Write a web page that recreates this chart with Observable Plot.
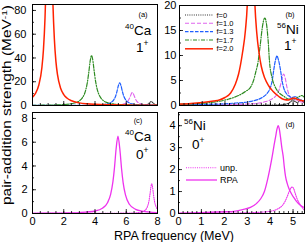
<!DOCTYPE html>
<html><head><meta charset="utf-8">
<script src="https://cdn.jsdelivr.net/npm/d3@7"></script>
<script src="https://cdn.jsdelivr.net/npm/@observablehq/plot@0.6"></script>
<style>
body{margin:0;background:#fff;}
#wrap{position:relative;width:305px;height:242px;font-family:"Liberation Sans",Arial,Helvetica,sans-serif;}
#wrap svg{position:absolute;left:0;top:0;}
</style></head><body><div id="wrap"></div>
<script>
// ---- data: [RPA frequency (MeV), strength] ----
// panel (a) 40Ca 1+
const caF0  = [[0,0.05],[2,0.05],[4,0.05],[5,0.06],[6,0.1],[6.6,0.15],[7.0,0.2],[7.2,0.42],[7.35,0.9],[7.45,1.7],[7.52,2.65],[7.6,3.4],[7.68,2.65],[7.75,1.7],[7.85,0.9],[8.0,0.42]];
const caF10 = [[0,0.03],[2,0.04],[3,0.05],[4,0.08],[5,0.22],[5.5,0.53],[5.8,1.13],[6.0,2.3],[6.1,3.5],[6.2,5.8],[6.3,9.1],[6.39,11],[6.48,9.1],[6.58,5.8],[6.68,3.5],[6.78,2.3],[7.0,1.07],[7.3,0.51],[7.7,0.25],[8,0.17]];
const caF13 = [[0,0.03],[2,0.07],[3,0.14],[4,0.36],[4.5,0.76],[4.8,1.4],[5.0,2.4],[5.2,4.8],[5.3,7.2],[5.4,11.4],[5.5,16.8],[5.58,19],[5.65,17.3],[5.75,11.9],[5.85,7.6],[6.0,4.1],[6.2,2.1],[6.5,1.03],[7,0.45],[8,0.16]];
const caF17 = [[0,0.18],[1,0.34],[2,0.81],[2.5,1.54],[2.8,2.57],[3.0,3.9],[3.2,6.6],[3.4,12.7],[3.5,18.6],[3.6,27.7],[3.7,38.1],[3.78,42],[3.85,38.9],[3.95,28.7],[4.05,19.4],[4.15,13.2],[4.3,7.9],[4.5,4.5],[4.8,2.4],[5.2,1.26],[6,0.53],[7,0.25],[8,0.15]];
const caF20 = [[0,7.0],[0.2,10.4],[0.4,17],[0.6,31.8],[0.7,46.9],[0.8,73.5],[0.85,93.9],[0.9,120],[1.0,185],[1.07,207],[1.15,179],[1.25,115],[1.3,89],[1.4,55.7],[1.5,36.9],[1.6,25.9],[1.8,14.5],[2.0,9.2],[2.2,6.3],[2.5,4.0],[3.0,2.2],[3.5,1.4],[4,0.96],[5,0.54],[6,0.34],[7,0.24],[8,0.17]];
// panel (b) 56Ni 1+
const niF0  = [[0,0.02],[2,0.03],[3,0.05],[4,0.08],[4.5,0.15],[4.7,0.3],[4.85,0.6],[4.95,1.0],[5.0,1.1],[5.08,0.8],[5.18,0.6],[5.28,0.9],[5.35,1.1],[5.43,0.8],[5.5,0.5]];
const niF10 = [[0,0.05],[1,0.08],[2,0.15],[3,0.3],[3.5,0.5],[3.8,0.8],[4.07,1.3],[4.25,2.0],[4.37,3.0],[4.45,4.2],[4.52,5.6],[4.58,6.3],[4.65,5.5],[4.73,3.6],[4.8,2.4],[4.88,1.6],[5.0,1.2],[5.15,1.1],[5.3,0.8],[5.5,0.6]];
const niF13 = [[0,0.1],[1,0.2],[2,0.35],[2.5,0.5],[3,0.7],[3.3,1.0],[3.64,1.6],[3.85,2.4],[4.0,3.6],[4.08,5.0],[4.15,7.2],[4.22,9.0],[4.29,9.9],[4.36,9.0],[4.44,7.2],[4.52,4.8],[4.58,3.6],[4.7,2.4],[4.85,1.8],[4.95,1.6],[5.1,1.8],[5.25,1.3],[5.4,1.0],[5.5,0.8]];
const niF17 = [[0,0.25],[0.5,0.3],[1,0.45],[1.46,0.65],[2.18,1.3],[2.6,2.0],[2.9,2.8],[3.13,3.7],[3.25,4.9],[3.35,6.6],[3.46,8.8],[3.55,12],[3.65,15.8],[3.72,17.3],[3.76,17.5],[3.82,16.5],[3.9,13],[3.96,8.8],[4.07,5.6],[4.2,3.8],[4.37,2.6],[4.6,1.8],[4.8,1.3],[5.0,1.3],[5.2,1.6],[5.38,2.0],[5.5,1.6]];
const niF20 = [[0,0.3],[0.5,0.4],[1,0.6],[1.5,0.9],[1.75,1.1],[2,1.6],[2.25,2.5],[2.45,4.2],[2.6,6.3],[2.77,10.5],[2.9,15],[2.98,20],[3.05,30],[3.15,45],[3.25,30],[3.32,20],[3.4,14.5],[3.5,10.5],[3.6,7.8],[3.75,5.5],[3.93,3.9],[4.1,2.9],[4.37,1.8],[4.6,1.2],[4.8,1.1],[4.95,1.4],[5.05,1.5],[5.2,1.2],[5.35,1.0],[5.5,0.9]];
// panel (c) 40Ca 0+
const ca0Rpa = [[0,0.016],[2,0.039],[3,0.078],[4,0.21],[4.5,0.47],[4.8,0.91],[5.0,1.61],[5.15,2.7],[5.25,3.9],[5.35,5.43],[5.47,6.5],[5.6,5.28],[5.7,3.77],[5.8,2.6],[5.95,1.56],[6.2,0.78],[6.6,0.35],[7,0.2],[8,0.073]];
const ca0Unp = [[0,0.02],[3,0.02],[6,0.03],[6.5,0.043],[7,0.134],[7.2,0.27],[7.35,0.56],[7.45,1.02],[7.52,1.63],[7.58,2.25],[7.63,2.5],[7.68,2.25],[7.74,1.63],[7.81,1.02],[7.91,0.56],[8.0,0.35]];
// panel (d) 56Ni 0+
const ni0Rpa = [[0,0.02],[1,0.04],[2,0.08],[2.42,0.1],[2.8,0.18],[3.14,0.28],[3.4,0.45],[3.58,0.66],[3.75,1.0],[3.9,1.6],[4.0,2.1],[4.09,2.6],[4.17,3.1],[4.24,3.5],[4.3,3.85],[4.35,4.0],[4.4,3.85],[4.45,3.5],[4.51,3.0],[4.57,2.6],[4.62,2.1],[4.67,1.7],[4.75,1.35],[4.82,1.14],[4.93,0.9],[5.03,0.73],[5.15,0.55],[5.33,0.36],[5.5,0.27]];
const ni0Unp = [[0,0.01],[3,0.03],[3.6,0.06],[4.0,0.1],[4.2,0.15],[4.4,0.25],[4.53,0.36],[4.65,0.55],[4.76,0.81],[4.85,1.05],[4.92,1.18],[4.96,1.21],[5.02,1.15],[5.1,0.9],[5.18,0.66],[5.3,0.42],[5.4,0.27],[5.5,0.15]];
// legend labels
const fLabels = ["f=0","f=1.0","f=1.3","f=1.7","f=2.0"];
const modeLabels = ["unp.","RPA"];
// ticks
const xTicksCa = [0,2,4,6,8];
const xTicksNi = [0,1,2,3,4,5];
const yTicksA = [0,20,40,60,80];
const yTicksB = [0,5,10,15,20];
const yTicksC = [0,2,4,6,8];
const yTicksD = [0,1,2,3,4];

// ---- styles ----
const fStyles = [
  {stroke:"#333", width:1.1, dash:"1,1.2"},
  {stroke:"#e066ee", width:1.1, dash:"4,2"},
  {stroke:"#1f5fff", width:1.2, dash:"3.5,1.5"},
  {stroke:"#2e8b22", width:1.2, dash:"4,1.5,1,1.5"},
  {stroke:"#ff2200", width:1.5, dash:null}
];
const modeStyles = [
  {stroke:"#ee33ee", width:1.1, dash:"1,1.2"},
  {stroke:"#ee33ee", width:1.3, dash:null}
];
const FONT = "'Liberation Sans', Arial, Helvetica, sans-serif";

function range(a,b,s){const r=[];for(let v=a;v<=b+1e-9;v+=s)r.push(+v.toFixed(3));return r;}

function panel({series, xDomain, yDomain, m, xMajor, xMinorStep, yMajor, yMinorStep, xLabels, yPad}) {
  const iw = 305 - m[1] - m[3], ih = 242 - m[0] - m[2];
  const marks = [];
  for (const s of series) {
    marks.push(Plot.line(s.data, {x: d=>d[0], y: d=>d[1], stroke: s.style.stroke, strokeWidth: s.style.width,
      strokeDasharray: s.style.dash, curve: "monotone-x", clip: true}));
  }
  const xMinor = range(xDomain[0], xDomain[1], xMinorStep);
  const yMinor = range(yDomain[0], yDomain[1], yMinorStep);
  marks.push(Plot.tickX(xMinor, {x: d=>d, insetTop: ih-2, stroke:"#000", strokeWidth:0.8}));
  marks.push(Plot.tickX(xMajor, {x: d=>d, insetTop: ih-4, stroke:"#000", strokeWidth:0.8}));
  marks.push(Plot.tickY(yMinor, {y: d=>d, insetRight: iw-2, stroke:"#000", strokeWidth:0.8}));
  marks.push(Plot.tickY(yMajor, {y: d=>d, insetRight: iw-4, stroke:"#000", strokeWidth:0.8}));
  marks.push(Plot.axisY(yMajor, {tickSize:0, tickPadding: yPad, label:null, tickFormat: d=>String(d), fontSize: 11}));
  if (xLabels) marks.push(Plot.axisX(xMajor, {tickSize:0, tickPadding: 4, label:null, tickFormat: d=>String(d), fontSize: 11}));
  marks.push(Plot.frame({stroke:"#000", strokeWidth:1}));
  return Plot.plot({
    width:305, height:242,
    marginTop:m[0], marginRight:m[1], marginBottom:m[2], marginLeft:m[3],
    x:{domain:xDomain, axis:null}, y:{domain:yDomain, axis:null},
    style:{background:"transparent", fontSize:"11px", fontFamily:FONT, color:"#000", overflow:"visible"},
    marks
  });
}

const wrap = document.getElementById("wrap");
const caSeries = [caF0,caF10,caF13,caF17,caF20].map((d,i)=>({data:d, style:fStyles[i]}));
const niSeries = [niF0,niF10,niF13,niF17,niF20].map((d,i)=>({data:d, style:fStyles[i]}));

wrap.appendChild(panel({series: caSeries, xDomain:[0,8], yDomain:[0,85], m:[4,148,137,32],
  xMajor:xTicksCa, xMinorStep:0.5, yMajor:yTicksA, yMinorStep:10, xLabels:false, yPad:6}));
wrap.appendChild(panel({series: niSeries, xDomain:[0,5.5], yDomain:[0,20], m:[5,1,137,179],
  xMajor:xTicksNi, xMinorStep:0.2, yMajor:yTicksB, yMinorStep:2.5, xLabels:false, yPad:3}));
wrap.appendChild(panel({series: [{data:ca0Unp, style:modeStyles[0]},{data:ca0Rpa, style:modeStyles[1]}], xDomain:[0,8], yDomain:[0,8.5], m:[112,148,29,32],
  xMajor:xTicksCa, xMinorStep:0.5, yMajor:yTicksC, yMinorStep:1, xLabels:true, yPad:5}));
wrap.appendChild(panel({series: [{data:ni0Unp, style:modeStyles[0]},{data:ni0Rpa, style:modeStyles[1]}], xDomain:[0,5.5], yDomain:[0,4.6], m:[112,1,29,178],
  xMajor:xTicksNi, xMinorStep:0.2, yMajor:yTicksD, yMinorStep:0.5, xLabels:true, yPad:3}));

// ---- overlay: titles, panel labels, legends ----
const ov = d3.select(wrap).append("svg").attr("width",305).attr("height",242)
  .style("font-family",FONT).style("overflow","visible");

function nucleus(x,y,mass,sym){
  const t = ov.append("text").attr("x",x).attr("y",y).attr("font-size",13.5);
  t.append("tspan").attr("font-size",8).attr("dy",-6).text(mass);
  t.append("tspan").attr("dy",6).text(sym);
}
function spin(x,y,j){
  const t = ov.append("text").attr("x",x).attr("y",y).attr("font-size",13.5);
  t.append("tspan").text(j);
  t.append("tspan").attr("font-size",8.5).attr("dy",-6).text("+");
}
function tag(x,y,s){ ov.append("text").attr("x",x).attr("y",y).attr("font-size",7.5).attr("text-anchor","middle").text(s); }

tag(143,17,"(a)"); nucleus(125,34.5,"40","Ca"); spin(136,52,"1");
tag(290,17,"(b)"); nucleus(277,33.8,"56","Ni"); spin(284,50,"1");
tag(138,123,"(c)"); nucleus(125,141,"40","Ca"); spin(136,158.5,"0");
tag(290,127,"(d)"); nucleus(184,130,"56","Ni"); spin(192,149,"0");

// legend (b)
const legY = [15,23.3,31.7,40,48.8];
fLabels.forEach((lab,i)=>{
  const st = fStyles[i];
  ov.append("line").attr("x1",185).attr("x2",213).attr("y1",legY[i]).attr("y2",legY[i])
    .attr("stroke",st.stroke).attr("stroke-width",st.width).attr("stroke-dasharray",st.dash);
  ov.append("text").attr("x",216.5).attr("y",legY[i]).attr("dy","0.35em").attr("font-size",7.5).text(lab);
});
// legend (d)
const legY2 = [167.7,180];
modeLabels.forEach((lab,i)=>{
  const st = modeStyles[i];
  ov.append("line").attr("x1",186).attr("x2",217).attr("y1",legY2[i]).attr("y2",legY2[i])
    .attr("stroke",st.stroke).attr("stroke-width",st.width).attr("stroke-dasharray",st.dash);
  ov.append("text").attr("x",220).attr("y",legY2[i]).attr("dy","0.35em").attr("font-size",9).text(lab);
});

// axis titles
const yt = ov.append("text").attr("transform","translate(11,105) rotate(-90)").attr("text-anchor","middle")
  .attr("font-size",12).attr("textLength",200).attr("lengthAdjust","spacingAndGlyphs");
yt.append("tspan").text("pair-addition strength (MeV");
yt.append("tspan").attr("font-size",8).attr("dy",-4).text("-1");
yt.append("tspan").attr("dy",4).text(")");
ov.append("text").attr("x",174).attr("y",240).attr("text-anchor","middle").attr("font-size",12.5).text("RPA frequency (MeV)");
</script>
</body></html>
